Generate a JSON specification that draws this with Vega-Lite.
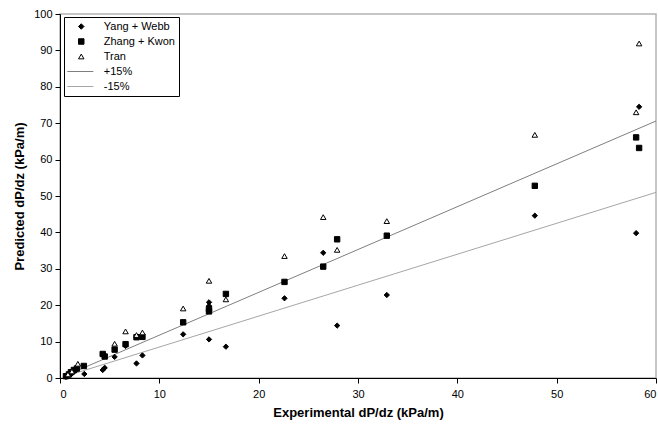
{
  "$schema": "https://vega.github.io/schema/vega-lite/v6.json",
  "width": 596,
  "height": 364,
  "autosize": {"type": "none"},
  "padding": {"left": 60, "top": 14, "right": 2, "bottom": 48},
  "background": "white",
  "config": {
    "font": "Liberation Sans",
    "view": {"stroke": "#b4b4b4", "strokeWidth": 1.5},
    "axis": {
      "labelFont": "Liberation Sans", "labelFontSize": 11, "labelColor": "black", "labelOverlap": false,
      "titleFont": "Liberation Sans", "titleFontSize": 13, "titleFontWeight": "bold", "titleColor": "black",
      "domainColor": "black", "tickColor": "black", "tickSize": 5, "grid": false
    },
    "legend": {"labelFont": "Liberation Sans", "labelFontSize": 11, "labelColor": "black"}
  },
  "datasets": {
    "pts": [
      {"series": "Yang + Webb", "x": 0.6, "y": 0.3},
      {"series": "Yang + Webb", "x": 0.8, "y": 0.6},
      {"series": "Yang + Webb", "x": 1.0, "y": 0.9},
      {"series": "Yang + Webb", "x": 1.2, "y": 1.3},
      {"series": "Yang + Webb", "x": 1.4, "y": 1.7},
      {"series": "Yang + Webb", "x": 1.6, "y": 2.1},
      {"series": "Yang + Webb", "x": 2.45, "y": 1.1},
      {"series": "Yang + Webb", "x": 4.3, "y": 2.2},
      {"series": "Yang + Webb", "x": 4.5, "y": 2.8},
      {"series": "Yang + Webb", "x": 5.5, "y": 5.8},
      {"series": "Yang + Webb", "x": 6.6, "y": 8.8},
      {"series": "Yang + Webb", "x": 7.7, "y": 4.0},
      {"series": "Yang + Webb", "x": 8.3, "y": 6.2},
      {"series": "Yang + Webb", "x": 12.4, "y": 12.0},
      {"series": "Yang + Webb", "x": 15.0, "y": 10.6},
      {"series": "Yang + Webb", "x": 15.0, "y": 19.8},
      {"series": "Yang + Webb", "x": 15.0, "y": 20.8},
      {"series": "Yang + Webb", "x": 16.7, "y": 8.6},
      {"series": "Yang + Webb", "x": 22.6, "y": 21.9},
      {"series": "Yang + Webb", "x": 26.5, "y": 34.4},
      {"series": "Yang + Webb", "x": 27.9, "y": 14.4},
      {"series": "Yang + Webb", "x": 32.9, "y": 22.8},
      {"series": "Yang + Webb", "x": 47.8, "y": 44.6},
      {"series": "Yang + Webb", "x": 58.0, "y": 39.8},
      {"series": "Yang + Webb", "x": 58.3, "y": 74.5},
      {"series": "Zhang + Kwon", "x": 0.6, "y": 0.5},
      {"series": "Zhang + Kwon", "x": 0.9, "y": 1.0},
      {"series": "Zhang + Kwon", "x": 1.1, "y": 1.6},
      {"series": "Zhang + Kwon", "x": 1.4, "y": 2.2},
      {"series": "Zhang + Kwon", "x": 1.7, "y": 2.6},
      {"series": "Zhang + Kwon", "x": 2.4, "y": 3.3},
      {"series": "Zhang + Kwon", "x": 4.3, "y": 6.6},
      {"series": "Zhang + Kwon", "x": 4.5, "y": 5.9},
      {"series": "Zhang + Kwon", "x": 5.5, "y": 7.8},
      {"series": "Zhang + Kwon", "x": 6.6, "y": 9.3},
      {"series": "Zhang + Kwon", "x": 7.7, "y": 11.2},
      {"series": "Zhang + Kwon", "x": 8.3, "y": 11.3},
      {"series": "Zhang + Kwon", "x": 12.4, "y": 15.3},
      {"series": "Zhang + Kwon", "x": 15.0, "y": 18.3},
      {"series": "Zhang + Kwon", "x": 15.0, "y": 19.0},
      {"series": "Zhang + Kwon", "x": 16.7, "y": 23.1},
      {"series": "Zhang + Kwon", "x": 22.6, "y": 26.4},
      {"series": "Zhang + Kwon", "x": 26.5, "y": 30.6},
      {"series": "Zhang + Kwon", "x": 27.9, "y": 38.1},
      {"series": "Zhang + Kwon", "x": 32.9, "y": 39.1},
      {"series": "Zhang + Kwon", "x": 47.8, "y": 52.8},
      {"series": "Zhang + Kwon", "x": 58.0, "y": 66.1},
      {"series": "Zhang + Kwon", "x": 58.3, "y": 63.2},
      {"series": "Tran", "x": 0.8, "y": 1.0},
      {"series": "Tran", "x": 1.2, "y": 1.8},
      {"series": "Tran", "x": 1.8, "y": 3.9},
      {"series": "Tran", "x": 5.5, "y": 9.4},
      {"series": "Tran", "x": 6.6, "y": 12.8},
      {"series": "Tran", "x": 7.7, "y": 11.8},
      {"series": "Tran", "x": 8.3, "y": 12.5},
      {"series": "Tran", "x": 12.4, "y": 19.1},
      {"series": "Tran", "x": 15.0, "y": 26.7},
      {"series": "Tran", "x": 16.7, "y": 21.6},
      {"series": "Tran", "x": 22.6, "y": 33.5},
      {"series": "Tran", "x": 26.5, "y": 44.2},
      {"series": "Tran", "x": 27.9, "y": 35.2},
      {"series": "Tran", "x": 32.9, "y": 43.1},
      {"series": "Tran", "x": 47.8, "y": 66.8},
      {"series": "Tran", "x": 58.0, "y": 73.0},
      {"series": "Tran", "x": 58.3, "y": 91.9}
    ],
    "lines": [
      {"series": "+15%", "x": 0.7, "y": 0.82},
      {"series": "+15%", "x": 60, "y": 70.6},
      {"series": "-15%", "x": 0.7, "y": 0.6},
      {"series": "-15%", "x": 60, "y": 51.0}
    ]
  },
  "encoding": {
    "x": {"field": "x", "type": "quantitative", "scale": {"domain": [0, 60]},
          "axis": {"title": "Experimental dP/dz (kPa/m)", "values": [0,10,20,30,40,50,60], "tickCount": 20, "labelPadding": 5, "titlePadding": 7}},
    "y": {"field": "y", "type": "quantitative", "scale": {"domain": [0, 100]},
          "axis": {"title": "Predicted dP/dz (kPa/m)", "values": [0,10,20,30,40,50,60,70,80,90,100], "tickCount": 20, "labelPadding": 3, "titlePadding": 7}}
  },
  "layer": [
    {
      "data": {"name": "lines"},
      "mark": {"type": "line", "strokeWidth": 1},
      "encoding": {
        "stroke": {"field": "series", "type": "nominal",
          "scale": {"domain": ["Yang + Webb", "Zhang + Kwon", "Tran", "+15%", "-15%"], "range": ["black", "black", "black", "#7f7f7f", "#a6a6a6"]}},
        "detail": {"field": "series"}
      }
    },
    {
      "data": {"name": "pts"},
      "mark": {"type": "point", "strokeWidth": 1, "opacity": 1},
      "encoding": {
        "shape": {"field": "series", "type": "nominal",
          "scale": {"domain": ["Yang + Webb", "Zhang + Kwon", "Tran", "+15%", "-15%"], "range": ["diamond", "square", "triangle-up", "M-5.1,0H4.4", "M-5.1,0H4.4"]}},
        "stroke": {"field": "series", "type": "nominal",
          "legend": {
            "title": null, "orient": "none", "legendX": 4, "legendY": 3,
            "fillColor": "white", "strokeColor": "black", "padding": 4,
            "symbolSize": 30, "symbolOffset": 7.75, "labelOffset": 17, "rowPadding": 3,
            "symbolStrokeWidth": 1
          }},
        "fill": {"field": "series", "type": "nominal",
          "scale": {"domain": ["Yang + Webb", "Zhang + Kwon", "Tran", "+15%", "-15%"], "range": ["black", "black", "white", "transparent", "transparent"]}},
        "size": {"field": "series", "type": "nominal",
          "scale": {"domain": ["Yang + Webb", "Zhang + Kwon", "Tran"], "range": [28, 30, 28]}, "legend": null}
      }
    }
  ]
}
